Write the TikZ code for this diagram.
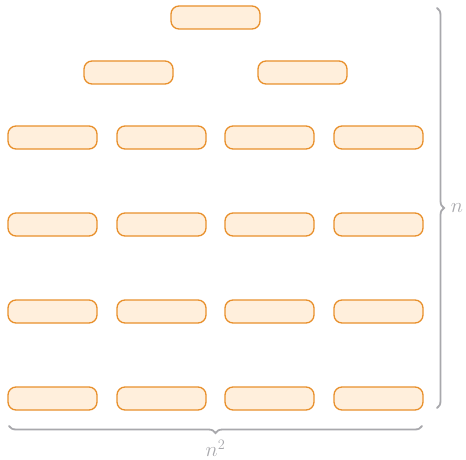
\documentclass[tikz,border=0pt]{standalone}
\usepackage{xcolor}
\usepackage{tikz}
\usetikzlibrary{arrows.meta, positioning, decorations.pathreplacing, calc}
\definecolor{cellorange}{HTML}{E8902C}
\definecolor{cellfill}{HTML}{FFEFDC}
\definecolor{bracegray}{HTML}{A8A8AC}

\tikzset{
    cell/.style={draw=cellorange, fill=cellfill, line width=1.3pt, rounded corners=8pt,
        minimum width=89pt, minimum height=23pt, inner sep=0pt},
    sizebrace/.style={draw=bracegray, line width=1.8pt, line cap=round,
        decoration={brace, amplitude=7pt}, decorate},
    sizelabel/.style={text=bracegray, inner sep=0pt, font=\fontsize{21}{25}\selectfont}
}

\begin{document}
\begin{tikzpicture}[x=1pt, y=-1pt]
    \useasboundingbox (0, 0) rectangle (466, 460);

    % ── Top levels ───────────────────────────────────────────────────
    \node[cell] (top) at (215.5, 17.5) {};
    \node[cell] (midL) at (128.5, 72.5) {};
    \node[cell] (midR) at (302.5, 72.5) {};

    % ── Grid of cells (4 rows x 4 columns) ───────────────────────────
    \foreach \r/\y in {1/137.5, 2/224.5, 3/311.5, 4/398.5}{
        \foreach \c/\x in {1/52.5, 2/161.5, 3/269.5, 4/378.5}{
            \node[cell] (g\r\c) at (\x, \y) {};
        }
    }

    % ── Size braces ──────────────────────────────────────────────────
    \coordinate (rtop) at (437, 8);
    \coordinate (rbot) at (437, 408);
    \draw[sizebrace] (rtop) -- (rbot) node[midway, sizelabel, right=13pt] (n) {$n$};

    \coordinate (bleft) at (9, 426);
    \coordinate (bright) at (422, 426);
    \draw[sizebrace] (bright) -- (bleft) node[midway, sizelabel, below=13pt] (nsq) {$n^2$};
\end{tikzpicture}
\end{document}
